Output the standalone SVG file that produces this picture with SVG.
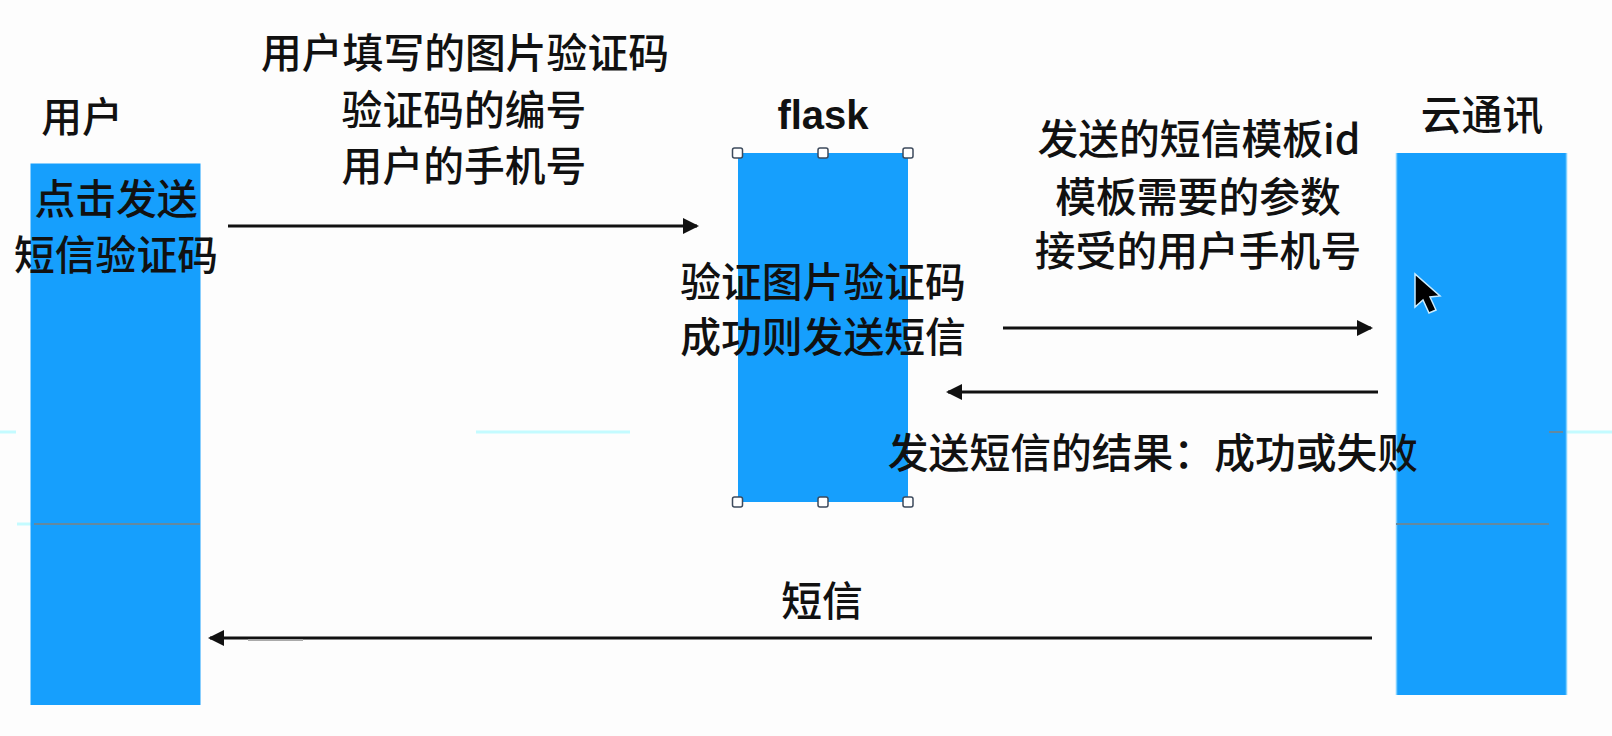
<svg xmlns="http://www.w3.org/2000/svg" width="1612" height="736" viewBox="0 0 1612 736">
<style>
.bar{fill:#169ffd}
.edge{stroke:#7fd0ff;stroke-width:1.500}
.t{font-family:"Noto Sans CJK SC","Liberation Sans",sans-serif;font-weight:500;font-size:40.800px;fill:#111;text-anchor:middle}
.b{font-family:"Liberation Sans","Noto Sans CJK SC",sans-serif;font-weight:700;font-size:40px;fill:#111;text-anchor:middle}
.c{stroke:#111;stroke-width:3;fill:none;marker-end:url(#ah)}
.h{fill:#fff;stroke:#3c4a5c;stroke-width:1.5}
.f{stroke:#c4fbff;stroke-width:3}
.g{stroke:#64899f;stroke-width:2}
</style>
<defs>
<marker id="ah" markerUnits="userSpaceOnUse" markerWidth="16" markerHeight="18" refX="14" refY="9" orient="auto"><path d="M0 1L16 9L0 17Z" fill="#111"/></marker>
</defs>
<rect width="1612" height="736" fill="#fdfdfd"/>
<g id="faint">
<line class="f" x1="0" y1="432" x2="16" y2="432"/>
<line class="f" x1="476" y1="432" x2="630" y2="432"/>
<line class="f" x1="1567" y1="432" x2="1612" y2="432"/>
<line class="f" x1="17" y1="524" x2="31" y2="524"/>
</g>
<g id="user">
<rect class="bar" x="30.500" y="163.500" width="170" height="541.500"/>
<line class="g" x1="34" y1="524" x2="200" y2="524"/>
<text class="t" x="82" y="132">用户</text>
<text class="t" x="116" y="214">点击发送</text>
<text class="t" x="116" y="270">短信验证码</text>
</g>
<g id="flask">
<rect class="bar" x="738" y="153" width="170" height="349"/>
<text class="b" x="823" y="129">flask</text>
<rect class="h" x="732.500" y="148" width="10" height="10" rx="2"/>
<rect class="h" x="818" y="148" width="10" height="10" rx="2"/>
<rect class="h" x="903" y="148" width="10" height="10" rx="2"/>
<rect class="h" x="732.500" y="497" width="10" height="10" rx="2"/>
<rect class="h" x="818" y="497" width="10" height="10" rx="2"/>
<rect class="h" x="903" y="497" width="10" height="10" rx="2"/>
<text class="t" x="823" y="297">验证图片验证码</text>
<text class="t" x="823" y="352">成功则发送短信</text>
</g>
<g id="cloud">
<rect class="bar" x="1396" y="153" width="171" height="542"/>
<line class="edge" x1="1396.500" y1="153" x2="1396.500" y2="695"/>
<line class="edge" x1="1566.500" y1="153" x2="1566.500" y2="695"/>
<line class="g" x1="1396" y1="524" x2="1549" y2="524"/>
<line class="g" x1="1549" y1="432" x2="1563" y2="432"/>
<text class="t" x="1482" y="130">云通讯</text>
<path id="cursor" d="M1415 274V307L1423 300L1429 313L1436 310L1430 297L1440 296Z" fill="#000" stroke="#c8ecff" stroke-width="1.500"/>
</g>
<g id="connectors">
<line class="c" x1="228" y1="226" x2="697" y2="226"/>
<line class="c" x1="1003" y1="328" x2="1371" y2="328"/>
<line class="c" x1="1378" y1="392" x2="948" y2="392"/>
<line class="c" x1="1372" y1="638" x2="210" y2="638"/>
<line x1="248" y1="640" x2="303" y2="640" stroke="#aaa" stroke-width="2"/>
</g>
<g id="labels">
<text class="t" x="465" y="68">用户填写的图片验证码</text>
<text class="t" x="464" y="125">验证码的编号</text>
<text class="t" x="464" y="181">用户的手机号</text>
<text class="t" x="1199" y="154">发送的短信模板id</text>
<text class="t" x="1198" y="212">模板需要的参数</text>
<text class="t" x="1198" y="266">接受的用户手机号</text>
<text class="t" x="1153" y="468">发送短信的结果：成功或失败</text>
<text class="t" x="822" y="616">短信</text>
</g>
</svg>
